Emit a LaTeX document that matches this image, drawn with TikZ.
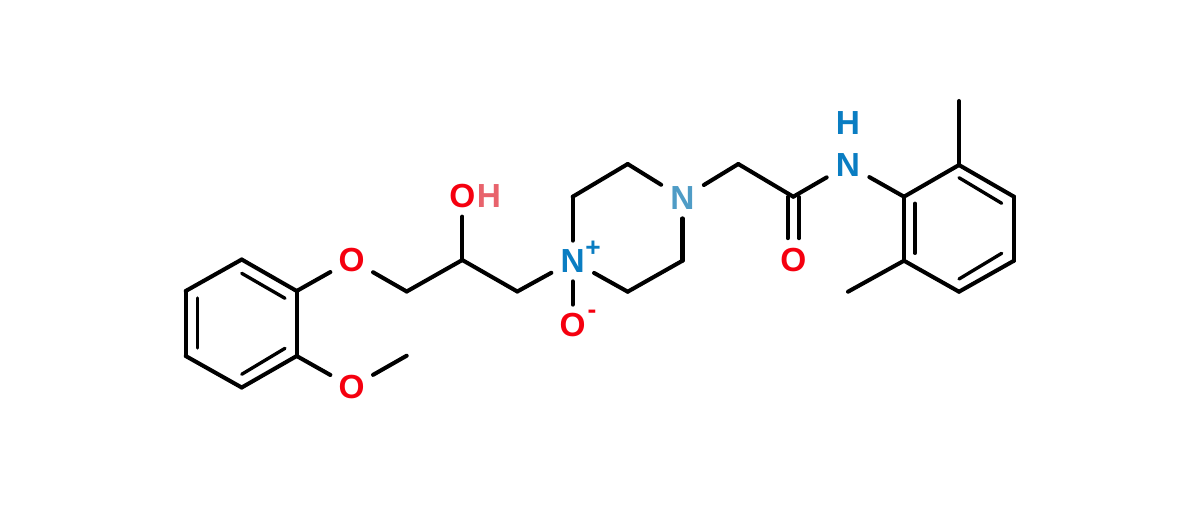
\documentclass[tikz,border=0pt]{standalone}
\usepackage{fontspec}
\setmainfont{Liberation Sans}
\definecolor{oxy}{HTML}{F5000F}
\definecolor{nit}{HTML}{0A7DC2}
\definecolor{nitpale}{HTML}{4F9CC6}
\definecolor{oxypale}{HTML}{E8636C}
\tikzset{
 atom/.style={inner sep=0, minimum width=.84cm, minimum height=.8cm, font=\fontsize{19}{20}\selectfont\bfseries},
 tag/.style={inner sep=0, font=\fontsize{19}{20}\selectfont\bfseries},
 charge/.style={inner sep=0, font=\fontsize{15}{16}\selectfont\bfseries},
 bond/.style={black, line width=2.3pt, line cap=round},
 inbond/.style={black, line width=1.9pt, line cap=round}
}
\begin{document}
\begin{tikzpicture}[x=.02cm, y=-.02cm]
\useasboundingbox (0,0) rectangle (1200,511);
% methoxyphenyl ring and the chain
\foreach \n/\x/\y in {a1/241.7/259.5, a2/296.7/291, a3/296.7/356, a4/241.7/387.5, a5/185.7/356, a6/185.7/291,
 c1/406.7/291.5, c2/462.3/260, c3/517.3/291.5, me1/406.7/355.7,
 r1/572.7/196.7, r2/627.7/164, r3/682.5/260.7, r4/627.7/291.7,
 c4/738.3/164, c5/793.3/196.7,
 b1/904/196.7, b2/959/165, b3/1014/196.7, b4/1014/260.7, b5/959/291.7, b6/904/260.7,
 me2/959/101, me3/848/291.7}
 \coordinate (\n) at (\x,\y);
\node[atom, oxy] (o1) at (351.7,260) {O};
\node[atom, oxy] (o2) at (351.7,387) {O};
\node[atom, oxy] (o3) at (462.3,196.3) {O};
\node[tag, oxypale] (h3) at (489,196.3) {H};
\node[atom, nit] (n1) at (572.7,261) {N};
\node[charge, nit] (plus) at (593,249) {+};
\node[atom, oxy] (o4) at (572.7,325) {O};
\node[charge, oxy] (minus) at (592,314) {-};
\node[atom, nitpale] (n2) at (682.5,198) {N};
\node[atom, oxy] (o5) at (793.3,260.3) {O};
\node[atom, nit] (n3) at (848,165) {N};
\node[tag, nit] (h5) at (848,122.7) {H};
\foreach \a/\b in {a1/a2, a2/a3, a3/a4, a4/a5, a5/a6, a6/a1, a2/o1, a3/o2, o1/c1, o2/me1, c1/c2, c2/c3, c2/o3, c3/n1,
 n1/r1, r1/r2, r2/n2, n2/r3, r3/r4, r4/n1, n1/o4, n2/c4, c4/c5, c5/n3, n3/b1,
 b1/b2, b2/b3, b3/b4, b4/b5, b5/b6, b6/b1, b2/me2, b6/me3}
 \draw[bond] (\a)--(\b);
% inner lines of the double bonds
\foreach \n/\x/\y in {i1/241.7/273.3, i2/285/298.3, i3/241.7/374.3, i4/285/348.3, i5/197.7/298, i6/197.7/348,
 i7/915/203.3, i8/915/253.3, i9/959/177.7, i10/1001.7/203.3, i11/959/279, i12/1001.7/253.3}
 \coordinate (\n) at (\x,\y);
\foreach \a/\b in {i1/i2, i3/i4, i5/i6, i7/i8, i9/i10, i11/i12}
 \draw[inbond] (\a)--(\b);
\coordinate (co1) at (787.7,197);
\coordinate (co2) at (799,197);
\draw[bond, shorten >=1pt] (co1)--(co1|-o5.north);
\draw[bond, shorten >=1pt] (co2)--(co2|-o5.north);
\end{tikzpicture}
\end{document}
